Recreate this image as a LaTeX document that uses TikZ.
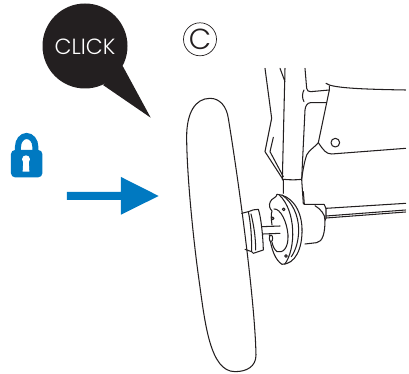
\documentclass[tikz,border=0pt]{standalone}
\usepackage{fontspec}
\setmainfont{Lato}
\newfontfamily\markfont{Poppins Light}
\definecolor{ablue}{HTML}{0079C1}
\definecolor{ablack}{HTML}{231F20}
\tikzset{
  ln/.style={draw=ablack,line width=1.05pt,line join=round,line cap=round},
  zoomB/.style={shift={(250,60)},scale=0.3333},
  zoomC/.style={shift={(0,0)},scale=0.3333},
  zoomD/.style={shift={(175,90)},scale=0.3333},
  zoomE/.style={shift={(262,185)},scale=0.3333},
  zoomF/.style={shift={(235,200)},scale=0.3333},
  zoomG/.style={shift={(300,190)},scale=0.3333}
}
\begin{document}
\begin{tikzpicture}[x=1pt,y=-1pt]
\useasboundingbox (0,0) rectangle (409,374);
% bubble
\fill[ablack] (85,46) circle (42.5);
\fill[ablack] (122.7,66) -- (150.7,117.7) -- (103,85) -- cycle;
\node[text=white,font=\markfont\fontsize{22}{24}\selectfont,inner sep=0] (click) at (85,46.5) {CLICK};
% circled C
\node[draw=ablack,line width=0.7pt,circle,minimum size=33pt,inner sep=0,font=\markfont\fontsize{29}{30}\selectfont,text=ablack] (mark) at (200,39.3) {C};
% lock and arrow
\begin{scope}[zoomC]
\fill[ablue,rounded corners=4pt] (33,450) rectangle (127,532);
\draw[ablue,line width=6pt] (54,452) -- (54,440) arc[start angle=180,end angle=360,x radius=26,y radius=32] -- (106,452);
\fill[white] (78,478) circle (12);
\fill[white] (70,480) -- (86,480) -- (88,515) -- (68,515) -- cycle;
\fill[ablue] (201,576) -- (363,576) -- (363,531) -- (476,588) -- (363,644) -- (363,600) -- (201,600) -- cycle;
\end{scope}
% wheel
\begin{scope}[zoomD]
\draw[ln] (105,25) .. controls (60,25) and (35,70) .. (35,140)
 .. controls (35,250) and (55,450) .. (72,570)
 .. controls (90,700) and (105,845) .. (180,845)
 .. controls (215,845) and (243,830) .. (243,795)
 .. controls (240,640) and (195,300) .. (160,85)
 .. controls (155,50) and (135,25) .. (105,25) -- cycle;
\end{scope}
% spacer disc
\begin{scope}[zoomF]
\draw[ln] (20,40) -- (40,35);
\draw[ln] (30,148) -- (50,155);
\draw[ln] (40,35) .. controls (50,30) and (60,28) .. (70,28) .. controls (78,50) and (84,110) .. (85,150) -- (55,160) -- (50,155) .. controls (50,110) and (48,75) .. (40,35);
\draw[ln] (48,42) .. controls (56,75) and (62,110) .. (62,150);
\draw[ln] (82,80) -- (135,78);
\draw[ln] (85,102) -- (135,100);
\end{scope}
% flange
\begin{scope}[zoomE]
\draw[ln] (45,28) .. controls (85,30) and (118,70) .. (120,130) .. controls (122,190) and (100,238) .. (60,238)
 .. controls (40,225) and (28,195) .. (22,150);
\draw[ln] (45,28) .. controls (45,38) and (28,40) .. (25,50) .. controls (20,60) and (22,70) .. (30,78) .. controls (26,88) and (28,105) .. (30,120);
\draw[ln] (60,30) .. controls (90,50) and (110,90) .. (110,135) .. controls (110,165) and (102,195) .. (88,215);
\draw[ln] (52,30) .. controls (78,55) and (90,95) .. (92,135) .. controls (94,175) and (85,215) .. (68,238);
\draw[ln] (36,72) .. controls (55,70) and (75,110) .. (78,150) .. controls (80,190) and (62,205) .. (45,200) .. controls (38,195) and (33,185) .. (30,172);
\draw[ln,fill=white] (65,73) circle (4);
\draw[ln,fill=white] (32,100) circle (4);
\draw[ln,fill=white] (27,160) ellipse (5 and 10);
\draw[ln,fill=white] (72,213) circle (4);
\end{scope}
% rear housing and rods
\begin{scope}[zoomG]
\draw[ln] (10,5) -- (13,43) -- (72,43);
\draw[ln] (45,47) .. controls (62,58) and (75,72) .. (75,90) .. controls (75,130) and (68,155) .. (50,158) -- (15,162);
\draw[ln] (72,43) -- (78,55) -- (78,85) -- (75,90);
\draw[ln] (78,55) -- (317,40);
\draw[ln] (78,78) -- (317,60);
\draw[ln] (78,84) -- (317,66);
\end{scope}
% body
\begin{scope}[zoomB]
\draw[ln] (45,25) -- (65,175) -- (45,275) -- (100,360) -- (100,400);
\draw[ln] (70,232) -- (60,275) -- (100,350);
\draw[ln] (90,25) -- (105,65);
\draw[ln] (105,25) -- (97,360);
\draw[ln] (100,358) .. controls (120,360) and (140,360) .. (155,358);
\draw[ln] (155,358) -- (160,432);
\draw[ln] (165,25) -- (170,85) .. controls (171,92) and (175,95) .. (182,95) -- (238,90);
\draw[ln] (162,90) .. controls (156,100) and (156,115) .. (162,125);
\draw[ln] (155,358) -- (165,150) .. controls (166,138) and (172,128) .. (182,128) -- (228,128);
\draw[ln] (228,70) -- (238,75) .. controls (270,85) and (350,88) .. (467,90);
\draw[ln] (238,78) -- (238,90) -- (205,248);
\draw[ln] (205,248) .. controls (190,265) and (178,270) .. (170,285) .. controls (165,300) and (160,320) .. (155,358);
\draw[ln] (205,248) .. controls (220,270) and (228,282) .. (245,282) -- (467,265);
\draw[ln] (256,248) circle (13);
\end{scope}
\end{tikzpicture}
\end{document}
